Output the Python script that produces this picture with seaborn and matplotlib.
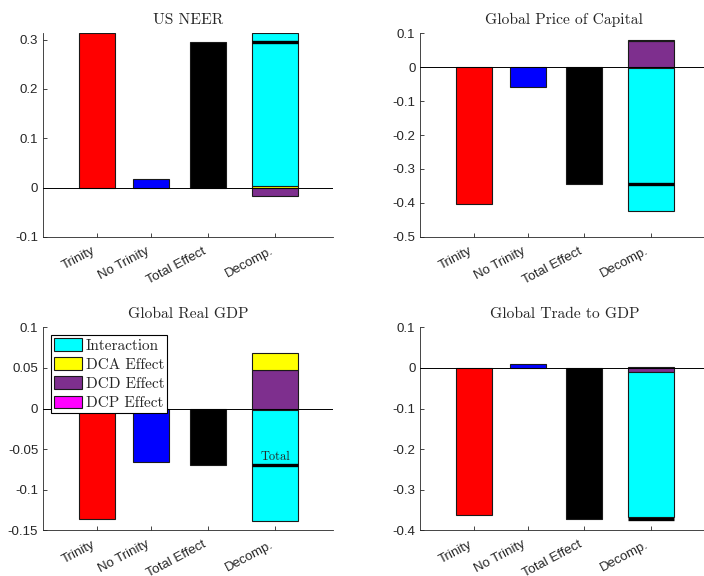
import numpy as np
import pandas as pd
import matplotlib.pyplot as plt
import seaborn as sns
from matplotlib.patches import Patch
from matplotlib.ticker import FuncFormatter
from matplotlib.transforms import ScaledTranslation

categories = ["Trinity", "No Trinity", "Total Effect", "Decomp."]
components = ["Interaction", "DCA Effect", "DCD Effect", "DCP Effect"]
titles = ["US NEER", "Global Price of Capital", "Global Real GDP", "Global Trade to GDP"]

# Trinity, No Trinity, Total Effect
neer_bars = [0.313, 0.017, 0.295]
price_bars = [-0.403, -0.059, -0.345]
gdp_bars = [-0.1355, -0.066, -0.070]
trade_bars = [-0.363, 0.009, -0.373]

# Interaction, DCA, DCD, DCP
neer_decomp = [0.309, 0.004, -0.018, 0.0]
price_decomp = [-0.422, 0.002, 0.077, -0.003]
gdp_decomp = [-0.136, 0.020, 0.048, -0.002]
trade_decomp = [-0.357, 0.0, -0.010, 0.002]

neer_yticks = [-0.1, 0, 0.1, 0.2, 0.3]
price_yticks = [-0.5, -0.4, -0.3, -0.2, -0.1, 0, 0.1]
gdp_yticks = [-0.15, -0.1, -0.05, 0, 0.05, 0.1]
trade_yticks = [-0.4, -0.3, -0.2, -0.1, 0, 0.1]

ylims = [(-0.1, 0.313), (-0.5, 0.1), (-0.15, 0.1), (-0.4, 0.1)]

bar_colors = {"Trinity": "#ff0000", "No Trinity": "#0000ff", "Total Effect": "#000000"}
comp_colors = {"Interaction": "#00ffff", "DCA Effect": "#ffff00",
               "DCD Effect": "#7e2f8e", "DCP Effect": "#ff00ff"}

# slot positions along x (MATLAB-like spacing)
xpos = [1, 2, 3.06, 4.3]
serif = "cmr10"

sns.set_theme(style="white")
plt.rcParams["font.family"] = ["Liberation Sans", "DejaVu Sans"]
plt.rcParams["axes.edgecolor"] = "#262626"
plt.rcParams["xtick.color"] = "#262626"
plt.rcParams["ytick.color"] = "#262626"

fig = plt.figure(figsize=(7.04, 5.76), dpi=100)
boxes = [[43 / 704, 0.5889, 290 / 704, 0.3533],
         [420.3 / 704, 0.5889, 288 / 704, 0.3533],
         [43 / 704, 0.0793, 290 / 704, 0.3524],
         [420.3 / 704, 0.0793, 288 / 704, 0.3524]]

panels = [(neer_bars, neer_decomp, neer_yticks),
          (price_bars, price_decomp, price_yticks),
          (gdp_bars, gdp_decomp, gdp_yticks),
          (trade_bars, trade_decomp, trade_yticks)]

stack_order = ["DCP Effect", "DCD Effect", "DCA Effect", "Interaction"]
shift = ScaledTranslation(0.06, 0, fig.dpi_scale_trans)

for i, (bars, decomp, yticks) in enumerate(panels):
    ax = fig.add_axes(boxes[i])
    df = pd.DataFrame({"pos": xpos[:3], "value": bars, "label": categories[:3]})
    sns.barplot(data=df, x="pos", y="value", hue="label", palette=bar_colors,
                native_scale=True, width=0.67, dodge=False, legend=False,
                saturation=1, errorbar=None, edgecolor="#1a1a1a", linewidth=0.8, ax=ax)

    # stacked decomposition bar
    vals = dict(zip(components, decomp))
    pos_base, neg_base = 0.0, 0.0
    for c in stack_order:
        v = vals[c]
        if v == 0:
            continue
        if v > 0:
            ax.bar(xpos[3], v, bottom=pos_base, width=0.85, color=comp_colors[c],
                   edgecolor="#1a1a1a", linewidth=0.8)
            pos_base += v
        else:
            ax.bar(xpos[3], v, bottom=neg_base, width=0.85, color=comp_colors[c],
                   edgecolor="#1a1a1a", linewidth=0.8)
            neg_base += v
    total = bars[2]
    ax.plot([xpos[3] - 0.425, xpos[3] + 0.425], [total, total], color="black",
            lw=2.4, solid_capstyle="butt", zorder=5)
    if i == 2:
        ax.text(xpos[3], total + 0.0035, "Total", ha="center", va="bottom",
                fontsize=9, family=serif, zorder=6)

    ax.axhline(0, color="black", lw=0.7, zorder=4)
    ax.set_xlim(0, 5.37)
    ax.set_ylim(*ylims[i])
    ax.set_xticks(xpos)
    ax.set_xticklabels(categories, rotation=28, ha="right", va="top", fontsize=9.5)
    for lab in ax.get_xticklabels():
        lab.set_transform(lab.get_transform() + shift)
    ax.set_yticks(yticks)
    ax.yaxis.set_major_formatter(FuncFormatter(lambda v, p: f"{v:g}"))
    ax.tick_params(axis="y", labelsize=9.5, direction="in", length=3, width=0.6, left=True)
    ax.tick_params(axis="x", direction="in", length=3, width=0.6, bottom=True, pad=6)
    ax.set(xlabel="", ylabel="")
    ax.set_title(titles[i], fontsize=11.2, family=serif, pad=7)
    sns.despine(ax=ax)
    for s in ["left", "bottom"]:
        ax.spines[s].set_linewidth(0.6)

    if i == 2:
        handles = [Patch(facecolor=comp_colors[c], edgecolor="#1a1a1a", linewidth=0.8)
                   for c in components]
        leg = ax.legend(handles, components, loc="upper left", frameon=True,
                        fancybox=False, framealpha=1, edgecolor="black",
                        prop={"family": serif, "size": 11}, handlelength=1.85,
                        handleheight=0.9, handletextpad=0.25, labelspacing=0.3,
                        borderpad=0.2, borderaxespad=0.5)
        leg.get_frame().set_linewidth(0.8)
        leg.set_zorder(10)

fig.savefig("out.png", dpi=100)
